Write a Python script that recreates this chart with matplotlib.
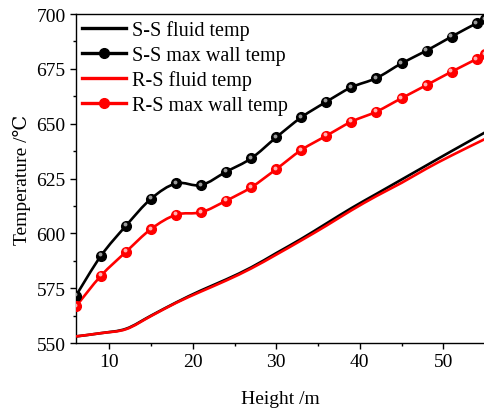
import matplotlib
matplotlib.use("Agg")
import numpy as np
import matplotlib.pyplot as plt
from matplotlib.transforms import offset_copy
from matplotlib.lines import Line2D
from matplotlib.path import Path
from matplotlib.patches import PathPatch

plt.rcParams['font.family'] = ['Liberation Serif', 'DejaVu Serif']

# Data
x_fluid = [6, 9, 12, 15, 18, 21, 24, 27, 30, 33, 36, 39, 42, 45, 48, 51, 55]
ss_fluid = [553, 554.5, 556.5, 562.5, 568.5, 574, 579, 584.5, 591, 597.5, 604.5, 611.5, 618, 624.5, 631, 637.5, 646]
rs_fluid = [553, 554.5, 556.3, 562.3, 568.3, 573.5, 578.5, 584, 590.3, 596.8, 603.5, 610.5, 617, 623, 629.5, 635.5, 643]

x_wall = [6, 9, 12, 15, 18, 21, 24, 27, 30, 33, 36, 39, 42, 45, 48, 51, 54, 55]
ss_wall = [571.6, 589.8, 603.5, 615.8, 622.8, 622.0, 628.1, 634.2, 643.8, 652.9, 660.0, 666.6, 670.8, 677.5, 683.3, 689.7, 695.8, 697.7]
rs_wall = [566.7, 580.7, 591.6, 602.0, 608.5, 609.6, 614.9, 621.0, 629.3, 638.0, 644.5, 650.9, 655.5, 661.6, 667.6, 673.7, 679.5, 681.8]

xticks = [10, 20, 30, 40, 50]
yticks = [550, 575, 600, 625, 650, 675, 700]


def smooth_path(xs, ys):
    """Catmull-Rom spline through the data points, as cubic Bezier path."""
    p = np.column_stack([xs, ys]).astype(float)
    n = len(p)
    verts = [p[0]]
    codes = [Path.MOVETO]
    for i in range(n - 1):
        p0 = p[i - 1] if i > 0 else p[i]
        p1 = p[i]
        p2 = p[i + 1]
        p3 = p[i + 2] if i + 2 < n else p[i + 1]
        c1 = p1 + (p2 - p0) / 6.0
        c2 = p2 - (p3 - p1) / 6.0
        verts += [c1, c2, p2]
        codes += [Path.CURVE4] * 3
    return Path(verts, codes)


fig = plt.figure(figsize=(4.84, 4.10), dpi=100)
ax = fig.add_axes([76/484, 1-344/410, (484-76)/484 + 0.002, (344-15)/410])

lw = 1.9
ms = 7
for xs, ys, c in [(x_fluid, ss_fluid, 'black'), (x_wall, ss_wall, 'black'),
                  (x_fluid, rs_fluid, 'red'), (x_wall, rs_wall, 'red')]:
    ax.add_patch(PathPatch(smooth_path(xs, ys), facecolor='none', edgecolor=c,
                           lw=lw, zorder=3, capstyle='butt', joinstyle='round'))

ax.plot(x_wall, ss_wall, ls='none', marker='o', ms=ms, mfc='black', mec='black', zorder=4)
ax.plot(x_wall, rs_wall, ls='none', marker='o', ms=ms, mfc='red', mec='red', zorder=4)

# highlights for 3D-looking markers
tr = offset_copy(ax.transData, fig=fig, x=-1.0, y=1.0, units='points')
ax.plot(x_wall, ss_wall, ls='none', marker='o', ms=2.8, mfc='#9a9a9a', mec='none', transform=tr, zorder=5)
ax.plot(x_wall, rs_wall, ls='none', marker='o', ms=2.8, mfc='#ffb0b0', mec='none', transform=tr, zorder=5)

ax.set_xlim(6, 55)
ax.set_ylim(550, 700)
ax.set_xticks(xticks)
ax.set_yticks(yticks)
ax.set_xticks([15, 25, 35, 45], minor=True)
ax.set_yticks([562.5, 587.5, 612.5, 637.5, 662.5, 687.5], minor=True)
ax.tick_params(axis='both', which='major', direction='out', length=4.5, width=1, labelsize=14, pad=3)
ax.tick_params(axis='both', which='minor', direction='out', length=2.5, width=1)
for s in ax.spines.values():
    s.set_linewidth(1.0)

ax.set_xlabel('Height /m', fontsize=14, labelpad=14)
ax.set_ylabel('Temperature /℃', fontsize=14, labelpad=4)

handles = [
    Line2D([], [], color='black', lw=2.4),
    Line2D([], [], color='black', lw=2.4, marker='o', ms=ms, mfc='black'),
    Line2D([], [], color='red', lw=2.4),
    Line2D([], [], color='red', lw=2.4, marker='o', ms=ms, mfc='red'),
]
labels = ['S-S fluid temp', 'S-S max wall temp', 'R-S fluid temp', 'R-S max wall temp']
ax.legend(handles, labels, loc='upper left', frameon=False, fontsize=14.5,
          handlelength=2.2, handletextpad=0.3, labelspacing=0.28,
          borderaxespad=0.1, borderpad=0.2, bbox_to_anchor=(0.0, 1.0))

fig.savefig('out.png', dpi=100)
